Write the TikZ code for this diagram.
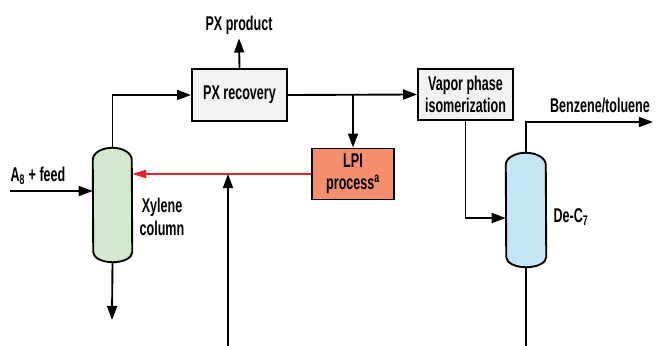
\documentclass[tikz,border=0pt]{standalone}
\usepackage{fontspec}
\setmainfont{Liberation Sans}[FakeStretch=0.63]
\usetikzlibrary{arrows.meta,calc}
\definecolor{boxgray}{RGB}{242,242,242}
\definecolor{lpisalmon}{RGB}{244,143,110}
\definecolor{colgreen}{RGB}{211,232,205}
\definecolor{colblue}{RGB}{197,229,246}
\definecolor{recyclered}{RGB}{232,33,42}
\tikzset{
    box/.style={draw, line width=1.6pt, fill=boxgray, inner sep=2pt,
                align=center, font=\fontsize{17}{19}\selectfont\bfseries},
    vessel/.style={inner sep=0pt},
    flow/.style={-{Triangle[length=12pt, width=8.5pt]}, line width=1.6pt},
    recycle/.style={-{Triangle[length=12pt, width=7pt]}, line width=1.6pt, color=recyclered},
    note/.style={font=\fontsize{17}{19}\selectfont\bfseries, align=center},
}

\begin{document}
\begin{tikzpicture}[x=0.03cm, y=-0.03cm]
    \path[use as bounding box] (0,0) rectangle (656,346);

    \node[box, minimum width=2.85cm, minimum height=1.56cm] (pxrec) at (239.5,95) {PX recovery};
    \node[box, minimum width=2.85cm, minimum height=1.53cm] (vapor) at (465.5,94.5) {Vapor phase\\isomerization};
    \node[box, fill=lpisalmon, minimum width=2.46cm, minimum height=1.53cm] (lpi) at (353,174) {LPI\\process\textsuperscript{a}};

    \node[vessel, minimum width=1.17cm, minimum height=3.42cm] (xyl) at (112.5,205) {};
    \node[vessel, minimum width=1.2cm, minimum height=3.42cm] (dec) at (526,210) {};
    \foreach \c/\col/\r in {xyl/colgreen/0.585cm,dec/colblue/0.6cm} {
        \draw[line width=1.6pt, fill=\col]
            ($(\c.north west)+(0,12)$) arc[start angle=180, end angle=0, x radius=\r, y radius=0.36cm]
            -- ($(\c.south east)-(0,10)$) arc[start angle=0, end angle=-180, x radius=\r, y radius=0.3cm]
            -- cycle;
    }

    \node[note] (pxprod) at (239,25) {PX product};
    \node[note] (feed) at (38,176) {A\textsubscript{8} + feed};
    \node[note] (xyllabel) at (162,217) {Xylene\\column};
    \node[note] (declabel) at (571,217) {De-C\textsubscript{7}};
    \node[note] (benz) at (600,105) {Benzene/toluene};

    \coordinate (feedin) at (10,191);
    \coordinate (xylout) at (112,320);
    \coordinate (makeup) at (228,346);
    \coordinate (benzout) at (653,122);
    \coordinate (decout) at (526,346);

    \draw[flow] (feedin) -- (feedin -| xyl.west);
    \draw[flow] (xyl.north) |- (pxrec.west);
    \draw[flow] (pxrec.north) -- (pxprod.south);
    \draw[flow] (pxrec.east) -- (vapor.west);
    \draw[flow] (pxrec.east -| lpi.north) -- (lpi.north);
    \draw[recycle] (lpi.west) -- (lpi.west -| xyl.east);
    \draw[flow] (makeup) -- (makeup |- lpi.west);
    \draw[flow] (xyl.south) -- (xylout);
    \draw[flow] (vapor.south) |- ([yshift=-0.24cm]dec.west);
    \draw[flow] (dec.north) |- (benzout);
    \draw[line width=1.6pt] (dec.south) -- (decout);
\end{tikzpicture}
\end{document}
